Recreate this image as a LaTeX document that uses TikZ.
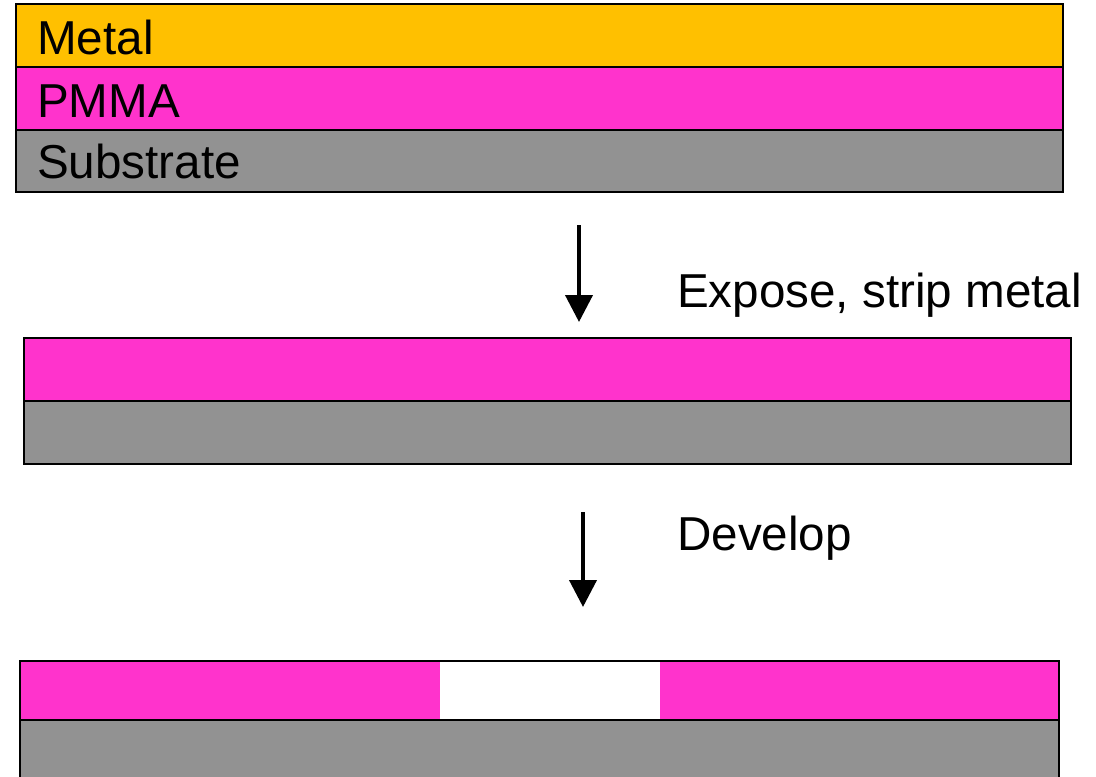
\documentclass[tikz,border=0pt]{standalone}
\usepackage{fontspec}
\setmainfont{Liberation Sans}
\usetikzlibrary{arrows.meta}
\definecolor{metalc}{HTML}{FFC000}
\definecolor{pmmac}{HTML}{FF33CC}
\definecolor{subc}{HTML}{929292}
\begin{document}
\begin{tikzpicture}[x=1pt,y=-1pt,
  layer/.style={draw=black,line width=1.8pt,inner sep=0pt,outer sep=0pt,anchor=north west},
  lbl/.style={anchor=base west,inner sep=0pt,font=\fontsize{47.6}{56}\selectfont},
  flow/.style={line width=4pt,-{Triangle[width=27pt,length=27pt]}}]
\useasboundingbox (0,0) rectangle (1096,777);
\clip (0,0) rectangle (1096,777);

% initial stack: metal on PMMA on substrate
\node[layer,fill=metalc,minimum width=1047pt,minimum height=63pt] (metal1) at (16,4) {};
\node[layer,fill=pmmac,minimum width=1047pt,minimum height=63pt] (pmma1) at (16,67) {};
\node[layer,fill=subc,minimum width=1047pt,minimum height=62pt] (sub1) at (16,130) {};
\node[lbl] (tmetal) at (37,54) {Metal};
\node[lbl] (tpmma) at (37,117) {PMMA};
\node[lbl] (tsub) at (37,178) {Substrate};

% first step
\coordinate (a1s) at (579,225);
\coordinate (a1e) at (579,322);
\draw[flow] (a1s) -- (a1e);
\node[lbl] (tstep1) at (677,307) {Expose, strip metal};

% stack after exposure and metal strip
\node[layer,fill=pmmac,minimum width=1047pt,minimum height=63pt] (pmma2) at (24,338) {};
\node[layer,fill=subc,minimum width=1047pt,minimum height=63pt] (sub2) at (24,401) {};

% second step
\coordinate (a2s) at (583,512);
\coordinate (a2e) at (583,607);
\draw[flow] (a2s) -- (a2e);
\node[lbl] (tstep2) at (677,550) {Develop};

% developed stack with the opening in the PMMA
\node[layer,fill=subc,minimum width=1039pt,minimum height=100pt] (sub3) at (20,720) {};
\node[layer,fill=pmmac,minimum width=1039pt,minimum height=59pt] (pmma3) at (20,661) {};
\fill[white] (440,662) rectangle (660,719.1);
\end{tikzpicture}
\end{document}
